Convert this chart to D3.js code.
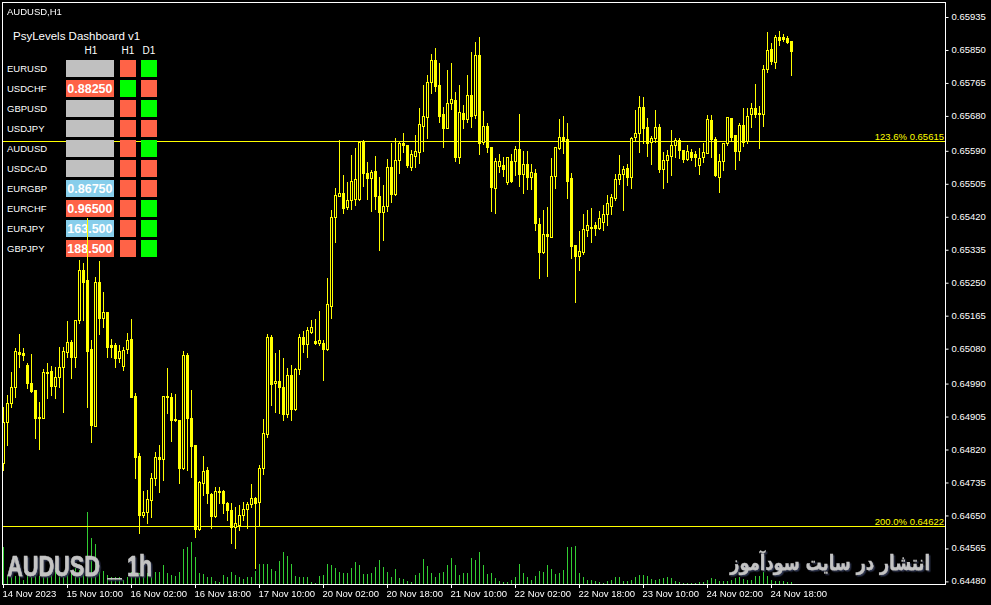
<!DOCTYPE html>
<html><head><meta charset="utf-8">
<script src="https://cdn.jsdelivr.net/npm/d3@7"></script>
<style>
html,body{margin:0;padding:0;background:#000;overflow:hidden;}
svg{display:block;}
text{font-family:"Liberation Sans",Arial,sans-serif;}
</style></head><body>
<svg id="chart" width="991" height="605"></svg>
<script>
// ---------------- DATA ----------------
const chartTitle = "AUDUSD,H1";
const timeTickIndex = [0,16,32,48,64,80,96,112,128,144,160,176,192];
const timeTickLabels = ["14 Nov 2023","15 Nov 10:00","16 Nov 02:00","16 Nov 18:00","17 Nov 10:00","20 Nov 02:00","20 Nov 18:00","21 Nov 10:00","22 Nov 02:00","22 Nov 18:00","23 Nov 10:00","24 Nov 02:00","24 Nov 18:00"];
const priceTicks = [0.65935,0.65850,0.65765,0.65680,0.65590,0.65505,0.65420,0.65335,0.65250,0.65165,0.65080,0.64990,0.64905,0.64820,0.64735,0.64650,0.64565,0.64480];
const fibNames = ["123.6%","200.0%"];
const fibValues = [0.65615,0.64622];

const open = [0.64783,0.64890,0.64939,0.64980,0.65070,0.65067,0.65036,0.64990,0.64972,0.64901,0.64900,0.65018,0.65021,0.64983,0.65006,0.65032,0.65071,0.65096,0.65057,0.65153,
0.65281,0.65256,0.65078,0.64880,0.65250,0.65158,0.65174,0.65088,0.65088,0.65055,0.65035,0.65078,0.65104,0.64957,0.64802,0.64650,0.64658,0.64688,0.64745,0.64799,
0.64794,0.64957,0.64955,0.64895,0.64895,0.64771,0.65062,0.64901,0.64830,0.64614,0.64732,0.64766,0.64704,0.64647,0.64712,0.64712,0.64681,0.64663,0.64619,0.64624,
0.64650,0.64666,0.64678,0.64694,0.64684,0.64772,0.64859,0.65109,0.64989,0.64996,0.64980,0.64910,0.65011,0.64923,0.65026,0.65109,0.65091,0.65122,0.65099,0.65094,
0.65093,0.65079,0.65189,0.65418,0.65473,0.65480,0.65445,0.65462,0.65465,0.65465,0.65611,0.65532,0.65519,0.65537,0.65473,0.65431,0.65446,0.65547,0.65477,0.65565,
0.65610,0.65604,0.65548,0.65576,0.65586,0.65653,0.65677,0.65767,0.65823,0.65758,0.65684,0.65648,0.65712,0.65720,0.65574,0.65686,0.65671,0.65733,0.65681,0.65836,
0.65611,0.65653,0.65598,0.65494,0.65550,0.65552,0.65509,0.65562,0.65562,0.65593,0.65528,0.65554,0.65522,0.65531,0.65399,0.65329,0.65374,0.65367,0.65524,0.65595,
0.65624,0.65619,0.65518,0.65346,0.65318,0.65329,0.65385,0.65390,0.65397,0.65391,0.65405,0.65426,0.65446,0.65468,0.65515,0.65528,0.65544,0.65520,0.65625,0.65634,
0.65701,0.65649,0.65611,0.65623,0.65649,0.65541,0.65565,0.65575,0.65604,0.65617,0.65591,0.65568,0.65586,0.65580,0.65552,0.65572,0.65584,0.65668,0.65619,0.65522,
0.65562,0.65608,0.65673,0.65629,0.65589,0.65655,0.65614,0.65683,0.65698,0.65684,0.65684,0.65799,0.65850,0.65818,0.65881,0.65881,0.65879,0.65872];
const high = [0.64929,0.64959,0.65019,0.65080,0.65116,0.65080,0.65042,0.65065,0.64972,0.64941,0.65026,0.65042,0.65034,0.65032,0.65083,0.65084,0.65150,0.65101,0.65153,0.65307,
0.65300,0.65416,0.65101,0.65264,0.65305,0.65225,0.65174,0.65104,0.65093,0.65088,0.65084,0.65119,0.65155,0.64964,0.64810,0.64712,0.64714,0.64758,0.64812,0.64830,
0.64957,0.65030,0.64964,0.64962,0.64895,0.65073,0.65067,0.64972,0.64830,0.64737,0.64802,0.64774,0.64706,0.64723,0.64723,0.64714,0.64683,0.64681,0.64671,0.64676,
0.64683,0.64683,0.64730,0.64696,0.64779,0.64897,0.65116,0.65114,0.65067,0.65075,0.65055,0.65029,0.65036,0.65029,0.65116,0.65124,0.65135,0.65153,0.65155,0.65176,
0.65101,0.65262,0.65436,0.65493,0.65617,0.65526,0.65509,0.65578,0.65597,0.65614,0.65617,0.65561,0.65539,0.65575,0.65521,0.65501,0.65568,0.65609,0.65623,0.65612,
0.65635,0.65604,0.65591,0.65629,0.65699,0.65758,0.65784,0.65838,0.65854,0.65816,0.65702,0.65797,0.65816,0.65741,0.65758,0.65707,0.65784,0.65843,0.65869,0.65881,
0.65691,0.65660,0.65599,0.65569,0.65580,0.65574,0.65574,0.65580,0.65601,0.65684,0.65588,0.65588,0.65554,0.65541,0.65415,0.65436,0.65445,0.65569,0.65599,0.65670,
0.65678,0.65660,0.65531,0.65346,0.65382,0.65426,0.65436,0.65442,0.65404,0.65434,0.65449,0.65475,0.65477,0.65529,0.65578,0.65550,0.65555,0.65625,0.65694,0.65730,
0.65727,0.65673,0.65627,0.65694,0.65658,0.65585,0.65591,0.65642,0.65621,0.65623,0.65592,0.65604,0.65593,0.65588,0.65595,0.65608,0.65681,0.65681,0.65625,0.65580,
0.65610,0.65677,0.65673,0.65629,0.65661,0.65698,0.65698,0.65711,0.65761,0.65704,0.65810,0.65894,0.65867,0.65887,0.65898,0.65889,0.65885,0.65872];
const low = [0.64766,0.64830,0.64929,0.64954,0.65032,0.65049,0.64977,0.64968,0.64848,0.64820,0.64900,0.64951,0.64959,0.64951,0.64981,0.64916,0.65057,0.65003,0.65032,0.65145,
0.65153,0.64929,0.64839,0.64880,0.65116,0.65135,0.65057,0.65057,0.65032,0.65045,0.65024,0.65067,0.64955,0.64745,0.64603,0.64645,0.64629,0.64645,0.64727,0.64710,
0.64740,0.64914,0.64841,0.64893,0.64732,0.64768,0.64766,0.64748,0.64593,0.64611,0.64701,0.64681,0.64616,0.64645,0.64681,0.64655,0.64637,0.64578,0.64565,0.64611,
0.64637,0.64617,0.64670,0.64513,0.64624,0.64755,0.64851,0.64933,0.64916,0.64913,0.64895,0.64903,0.64895,0.64920,0.65013,0.65071,0.65058,0.65119,0.65091,0.65088,
0.64998,0.65075,0.65158,0.65354,0.65472,0.65429,0.65439,0.65439,0.65449,0.65462,0.65498,0.65465,0.65434,0.65439,0.65333,0.65359,0.65434,0.65458,0.65475,0.65532,
0.65586,0.65548,0.65539,0.65548,0.65558,0.65589,0.65623,0.65738,0.65744,0.65664,0.65599,0.65647,0.65697,0.65562,0.65558,0.65648,0.65664,0.65651,0.65673,0.65581,
0.65606,0.65586,0.65434,0.65429,0.65535,0.65525,0.65503,0.65509,0.65526,0.65498,0.65479,0.65490,0.65490,0.65385,0.65262,0.65325,0.65267,0.65366,0.65492,0.65593,
0.65584,0.65468,0.65313,0.65200,0.65281,0.65323,0.65370,0.65354,0.65373,0.65387,0.65385,0.65397,0.65426,0.65462,0.65503,0.65436,0.65501,0.65494,0.65617,0.65586,
0.65610,0.65575,0.65555,0.65612,0.65535,0.65494,0.65509,0.65526,0.65574,0.65569,0.65561,0.65565,0.65565,0.65550,0.65529,0.65561,0.65582,0.65572,0.65525,0.65483,
0.65539,0.65604,0.65615,0.65542,0.65565,0.65601,0.65608,0.65651,0.65677,0.65597,0.65653,0.65793,0.65812,0.65803,0.65861,0.65873,0.65866,0.65784];
const close = [0.64890,0.64939,0.64981,0.65073,0.65066,0.65062,0.64990,0.64970,0.64901,0.64902,0.65018,0.65016,0.64983,0.65006,0.65031,0.65073,0.65096,0.65057,0.65153,0.65281,
0.65251,0.65073,0.64882,0.65250,0.65158,0.65174,0.65084,0.65084,0.65055,0.65073,0.65075,0.65101,0.64955,0.64800,0.64650,0.64658,0.64691,0.64745,0.64799,0.64795,
0.64957,0.64954,0.64895,0.64897,0.64771,0.65062,0.64901,0.64828,0.64614,0.64735,0.64763,0.64706,0.64647,0.64712,0.64709,0.64681,0.64663,0.64619,0.64629,0.64650,
0.64666,0.64678,0.64694,0.64681,0.64771,0.64861,0.65109,0.64988,0.64996,0.64980,0.64910,0.65011,0.64924,0.65026,0.65109,0.65091,0.65127,0.65135,0.65094,0.65101,
0.65079,0.65194,0.65418,0.65475,0.65480,0.65442,0.65462,0.65511,0.65516,0.65611,0.65532,0.65519,0.65535,0.65473,0.65431,0.65446,0.65547,0.65477,0.65565,0.65609,
0.65604,0.65552,0.65580,0.65588,0.65658,0.65678,0.65766,0.65823,0.65757,0.65679,0.65648,0.65712,0.65722,0.65574,0.65689,0.65671,0.65733,0.65679,0.65836,0.65608,
0.65653,0.65598,0.65496,0.65562,0.65563,0.65542,0.65572,0.65512,0.65593,0.65528,0.65554,0.65522,0.65533,0.65402,0.65329,0.65374,0.65370,0.65525,0.65598,0.65624,
0.65614,0.65512,0.65344,0.65318,0.65330,0.65386,0.65397,0.65393,0.65390,0.65415,0.65426,0.65454,0.65470,0.65515,0.65528,0.65541,0.65520,0.65621,0.65634,0.65701,
0.65647,0.65610,0.65623,0.65649,0.65542,0.65565,0.65578,0.65604,0.65617,0.65591,0.65568,0.65588,0.65574,0.65574,0.65571,0.65585,0.65671,0.65619,0.65526,0.65562,
0.65608,0.65675,0.65625,0.65589,0.65655,0.65612,0.65678,0.65698,0.65684,0.65687,0.65799,0.65849,0.65821,0.65881,0.65874,0.65876,0.65870,0.65847];
const volume = [1850,400,400,400,400,200,785,550,550,400,735,550,450,785,665,535,665,565,785,700,
535,3600,2300,2000,615,665,450,365,335,335,200,335,615,400,565,735,535,665,615,615,
950,535,450,400,615,1735,1835,2085,1365,565,500,365,365,150,115,450,365,615,450,365,
235,335,365,665,1000,1000,1000,735,665,1165,1585,1400,1000,400,365,365,335,115,65,400,
450,1000,950,785,615,565,565,785,1115,950,500,500,535,865,1200,865,615,335,735,285,
235,165,115,450,565,1235,900,565,335,535,585,950,1285,950,450,535,535,1285,1200,1585,
950,500,535,300,165,85,85,200,365,1000,550,365,200,415,665,585,965,750,500,535,
700,1865,1865,1915,535,365,200,200,135,85,35,135,200,365,335,135,165,215,365,450,
465,415,250,200,250,300,335,285,135,85,35,35,50,50,85,85,215,285,235,135,
165,150,200,300,365,250,200,200,385,415,585,415,200,165,135,135,85,85];

// dashboard
const dashTitle = "PsyLevels Dashboard v1";
const dashHeaders = ["H1","H1","D1"];
const dashSymbols = ["EURUSD","USDCHF","GBPUSD","USDJPY","AUDUSD","USDCAD","EURGBP","EURCHF","EURJPY","GBPJPY"];
const dashLevels = ["","0.88250","","","","","0.86750","0.96500","163.500","188.500"];
const dashLevelState = ["none","above","none","none","none","none","below","above","below","above"];
const dashH1 = ["down","up","down","down","down","down","down","down","down","down"];
const dashD1 = ["up","down","up","down","up","down","down","up","up","up"];
const watermarkSymbol = "AUDUSD";
const watermarkTf = "1h";
const watermarkFa = "انتشار در سایت سودآموز";

// ---------------- DRAW ----------------
const W = 991, H = 605;
const plot = {l: 2.5, t: 2.5, r: 945.5, b: 584.5};
const N = open.length;
const svg = d3.select("#chart");
svg.append("rect").attr("width", W).attr("height", H).attr("fill", "#000");

const x = d3.scaleLinear().domain([0, N - 1]).range([3.5, 3.5 + 4 * (N - 1)]);
const y = d3.scaleLinear().domain([0.64480, 0.65935]).range([580.9, 16.5]);
const vy = d3.scaleLinear().domain([0, d3.max(volume)]).range([584, 512]);
const py = v => Math.round(y(v)) + 0.5;

const defs = svg.append("defs");
defs.append("clipPath").attr("id", "plotclip")
  .append("rect").attr("x", 3).attr("y", 3).attr("width", 942).attr("height", 581);
const flt = defs.append("filter").attr("id", "wmshadow").attr("x", "-5%").attr("y", "-20%").attr("width", "115%").attr("height", "150%");
flt.append("feDropShadow").attr("dx", 1.5).attr("dy", 1.5).attr("stdDeviation", 0.3)
  .attr("flood-color", "#2e3650").attr("flood-opacity", 1);

// volumes
svg.append("g").attr("clip-path", "url(#plotclip)")
  .selectAll("line").data(volume).join("line")
  .attr("x1", (d, i) => x(i)).attr("x2", (d, i) => x(i))
  .attr("y1", 584).attr("y2", d => Math.round(vy(d)))
  .attr("stroke", "#32CD32").attr("stroke-width", 1);

// watermark texts: fitted horizontally by a scale transform
const wm = svg.append("g").attr("filter", "url(#wmshadow)");
function wmText(txt, xx, yy, size, targetW, family, anchor, sw) {
  const g = wm.append("g");
  const t = g.append("text").attr("x", 0).attr("y", 0).text(txt)
    .attr("font-size", size).attr("font-weight", "bold").attr("fill", "#c4c4c4")
    .attr("stroke", "#c4c4c4").attr("stroke-width", sw)
    .attr("text-anchor", anchor || "start")
    .style("font-family", family);
  const len = t.node().getComputedTextLength() || targetW;
  g.attr("transform", `translate(${xx},${yy}) scale(${targetW / len},1)`);
  return t;
}
const narrow = '"Liberation Sans Narrow","Liberation Sans",sans-serif';
wmText(watermarkSymbol, 7, 576, 30, 93, narrow, "start", 0.6);
wmText(watermarkTf, 127, 576, 30, 25, narrow, "start", 0.6);
wm.append("rect").attr("x", 107).attr("y", 578).attr("width", 15).attr("height", 1.5).attr("fill", "#c4c4c4");
wmText(watermarkFa, 930, 570, 21, 200, '"DejaVu Sans",sans-serif', "end", 0.3);

// fib lines
const fib = svg.append("g");
fibValues.forEach((v, k) => {
  fib.append("line").attr("x1", 3).attr("x2", 945).attr("y1", py(v)).attr("y2", py(v))
    .attr("stroke", "#FFFF00").attr("stroke-width", 1);
  fib.append("text").attr("x", 944).attr("y", py(v) - 2).attr("text-anchor", "end")
    .attr("font-size", 9.5).attr("fill", "#FFFF00")
    .text(fibNames[k] + " " + v.toFixed(5));
});

// dashboard
const colors = {none: "#C0C0C0", above: "#FF6347", below: "#87CEEB", up: "#00FF00", down: "#FF6347"};
const dash = svg.append("g");
dash.append("text").attr("x", 13).attr("y", 39.5).attr("font-size", 11.5).attr("fill", "#fff").text(dashTitle);
const headX = [91, 128, 149];
dashHeaders.forEach((h, k) => dash.append("text").attr("x", headX[k]).attr("y", 54)
  .attr("text-anchor", "middle").attr("font-size", 10).attr("fill", "#fff").text(h));
const rows = dash.selectAll("g.row").data(dashSymbols).join("g").attr("class", "row")
  .attr("transform", (d, i) => `translate(0,${60 + 20 * i})`);
rows.append("text").attr("x", 7).attr("y", 12).attr("font-size", 9.5).attr("fill", "#fff").text(d => d);
rows.append("rect").attr("x", 66).attr("y", 0).attr("width", 48).attr("height", 17)
  .attr("fill", (d, i) => colors[dashLevelState[i]]);
rows.append("text").attr("x", 112.5).attr("y", 13).attr("text-anchor", "end")
  .attr("font-size", 12.5).attr("font-weight", "bold").attr("fill", "#fff")
  .text((d, i) => dashLevels[i]);
rows.append("rect").attr("x", 120).attr("y", 0).attr("width", 16).attr("height", 17)
  .attr("fill", (d, i) => colors[dashH1[i]]);
rows.append("rect").attr("x", 141).attr("y", 0).attr("width", 16).attr("height", 17)
  .attr("fill", (d, i) => colors[dashD1[i]]);

// candles
const cg = svg.append("g").attr("clip-path", "url(#plotclip)");
const idx = d3.range(N);
cg.selectAll("line.wick").data(idx).join("line").attr("class", "wick")
  .attr("x1", i => x(i)).attr("x2", i => x(i))
  .attr("y1", i => Math.round(y(high[i]))).attr("y2", i => Math.round(y(low[i])) + 1)
  .attr("stroke", "#FFFF00").attr("stroke-width", 1);
cg.selectAll("rect.body").data(idx).join("rect").attr("class", "body")
  .attr("x", i => x(i) - 1)
  .attr("width", 2)
  .attr("y", i => py(Math.max(open[i], close[i])))
  .attr("height", i => Math.max(0, py(Math.min(open[i], close[i])) - py(Math.max(open[i], close[i]))))
  .attr("fill", i => close[i] >= open[i] ? "#000" : "#FFFF00")
  .attr("stroke", "#FFFF00").attr("stroke-width", 1);

// frame
svg.append("rect").attr("x", plot.l).attr("y", plot.t)
  .attr("width", plot.r - plot.l).attr("height", plot.b - plot.t)
  .attr("fill", "none").attr("stroke", "#fff").attr("stroke-width", 1);

// title
svg.append("text").attr("x", 7).attr("y", 14.5).attr("font-size", 9.5).attr("fill", "#fff").text(chartTitle);

// right price axis
const ya = svg.append("g").attr("transform", "translate(945.5,0)")
  .call(d3.axisRight(y).tickValues(priceTicks).tickFormat(d3.format(".5f")).tickSize(3).tickPadding(3));
ya.select(".domain").remove();
ya.selectAll("line").attr("stroke", "#fff").attr("transform", "translate(0,0.5)");
ya.selectAll("text").attr("fill", "#fff").attr("font-size", 9.5).style("font-family", '"Liberation Sans",Arial,sans-serif');

// time axis
const xa = svg.append("g");
timeTickIndex.forEach((ti, k) => {
  xa.append("line").attr("x1", x(ti)).attr("x2", x(ti)).attr("y1", 584).attr("y2", 588)
    .attr("stroke", "#fff").attr("stroke-width", 1);
  xa.append("text").attr("x", x(ti) - 1).attr("y", 597).attr("font-size", 9.5)
    .attr("fill", "#fff").text(timeTickLabels[k]);
});
</script>
</body></html>
